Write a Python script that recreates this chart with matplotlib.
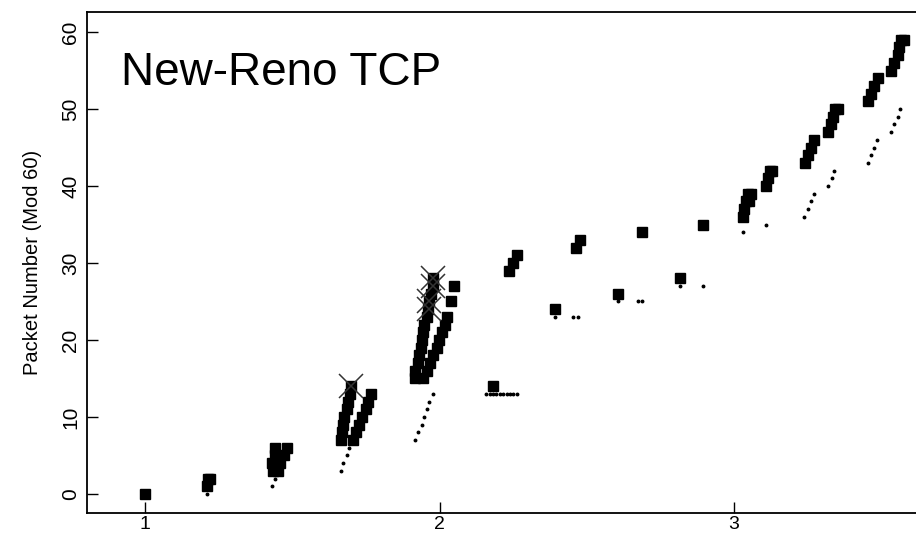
import matplotlib
matplotlib.use("Agg")
import matplotlib.pyplot as plt

plt.rcParams['font.family'] = ['Liberation Sans', 'DejaVu Sans']

# packets sent (time, packet number mod 60)
sent_t = [1.000,
          1.210, 1.215, 1.222,
          1.441, 1.482, 1.441, 1.472, 1.431, 1.458, 1.435, 1.452,
          1.664, 1.668, 1.673, 1.676, 1.685, 1.688, 1.696, 1.698,
          1.705, 1.716, 1.727, 1.737, 1.749, 1.756, 1.766,
          1.917, 1.917, 1.928, 1.931, 1.936, 1.940, 1.945, 1.948, 1.957,
          1.962, 1.966, 1.971, 1.978, 1.978,
          1.945, 1.957, 1.968, 1.979, 1.990, 1.999, 2.007, 2.019, 2.024,
          2.038, 2.049,
          2.181, 2.237, 2.248, 2.262,
          2.392, 2.463, 2.477, 2.605, 2.687, 2.817, 2.896,
          3.030, 3.035, 3.041, 3.050, 3.047, 3.058,
          3.109, 3.117, 3.122, 3.130,
          3.242, 3.250, 3.261, 3.273,
          3.318, 3.329, 3.335, 3.343, 3.353,
          3.454, 3.465, 3.476, 3.488,
          3.533, 3.544, 3.556, 3.559, 3.567, 3.578]
sent_n = [0,
          1, 2, 2,
          6, 6, 5, 5, 4, 4, 3, 3,
          7, 8, 9, 10, 11, 12, 13, 14,
          7, 8, 9, 10, 11, 12, 13,
          15, 16, 17, 18, 19, 20, 21, 22, 23,
          24, 25, 26, 27, 28,
          15, 16, 17, 18, 19, 20, 21, 22, 23,
          25, 27,
          14, 29, 30, 31,
          24, 32, 33, 26, 34, 28, 35,
          36, 37, 38, 38, 39, 39,
          40, 41, 42, 42,
          43, 44, 45, 46,
          47, 48, 49, 50, 50,
          51, 52, 53, 54,
          55, 56, 57, 58, 59, 59]

# acks received
ack_t = [1.210,
         1.431, 1.441,
         1.664, 1.673, 1.685, 1.694,
         1.917, 1.928, 1.940, 1.947, 1.957, 1.966, 1.979,
         2.158, 2.170, 2.182, 2.193, 2.205, 2.216, 2.228, 2.239, 2.251, 2.262,
         2.392, 2.454, 2.471,
         2.605, 2.673, 2.687,
         2.817, 2.894,
         3.030, 3.109,
         3.239, 3.250, 3.261, 3.273,
         3.320, 3.333, 3.341,
         3.454, 3.465, 3.476, 3.484,
         3.533, 3.544, 3.556, 3.564]
ack_n = [0,
         1, 2,
         3, 4, 5, 6,
         7, 8, 9, 10, 11, 12, 13,
         13, 13, 13, 13, 13, 13, 13, 13, 13, 13,
         23, 23, 23,
         25, 25, 25,
         27, 27,
         34, 35,
         36, 37, 38, 39,
         40, 41, 42,
         43, 44, 45, 46,
         47, 48, 49, 50]

# dropped packets
drop_t = [1.698, 1.964, 1.966, 1.978, 1.978]
drop_n = [14, 24, 25, 27, 28]

fig = plt.figure(figsize=(9.16, 5.34), dpi=100)
ax = fig.add_axes([87 / 916, 21 / 534, 829 / 916, 501 / 534])

ax.plot(sent_t, sent_n, ls='none', marker='s', ms=6.5, color='black')
ax.plot(ack_t, ack_n, ls='none', marker='o', ms=1.8, color='black')
ax.plot(drop_t, drop_n, ls='none', marker='x', ms=17, mew=1.1, color='#333333')

ax.set_xlim(0.803, 3.618)
ax.set_ylim(-2.47, 62.6)
ax.set_xticks([1, 2, 3])
ax.set_yticks([0, 10, 20, 30, 40, 50, 60])
ax.tick_params(direction='in', length=8, width=1, labelsize=15)
ax.tick_params(axis='x', pad=2, labelsize=14)
ax.tick_params(axis='y', labelrotation=90, pad=5)
for lab in ax.get_yticklabels():
    lab.set_va('center')
ax.spines['right'].set_visible(False)
for s in ax.spines.values():
    s.set_linewidth(1.3)

ax.set_ylabel('Packet Number (Mod 60)', fontsize=14.5, labelpad=14)
ax.text(0.918, 53.1, 'New-Reno TCP', fontsize=33, va='baseline', ha='left')

fig.savefig('out.png', dpi=100)
